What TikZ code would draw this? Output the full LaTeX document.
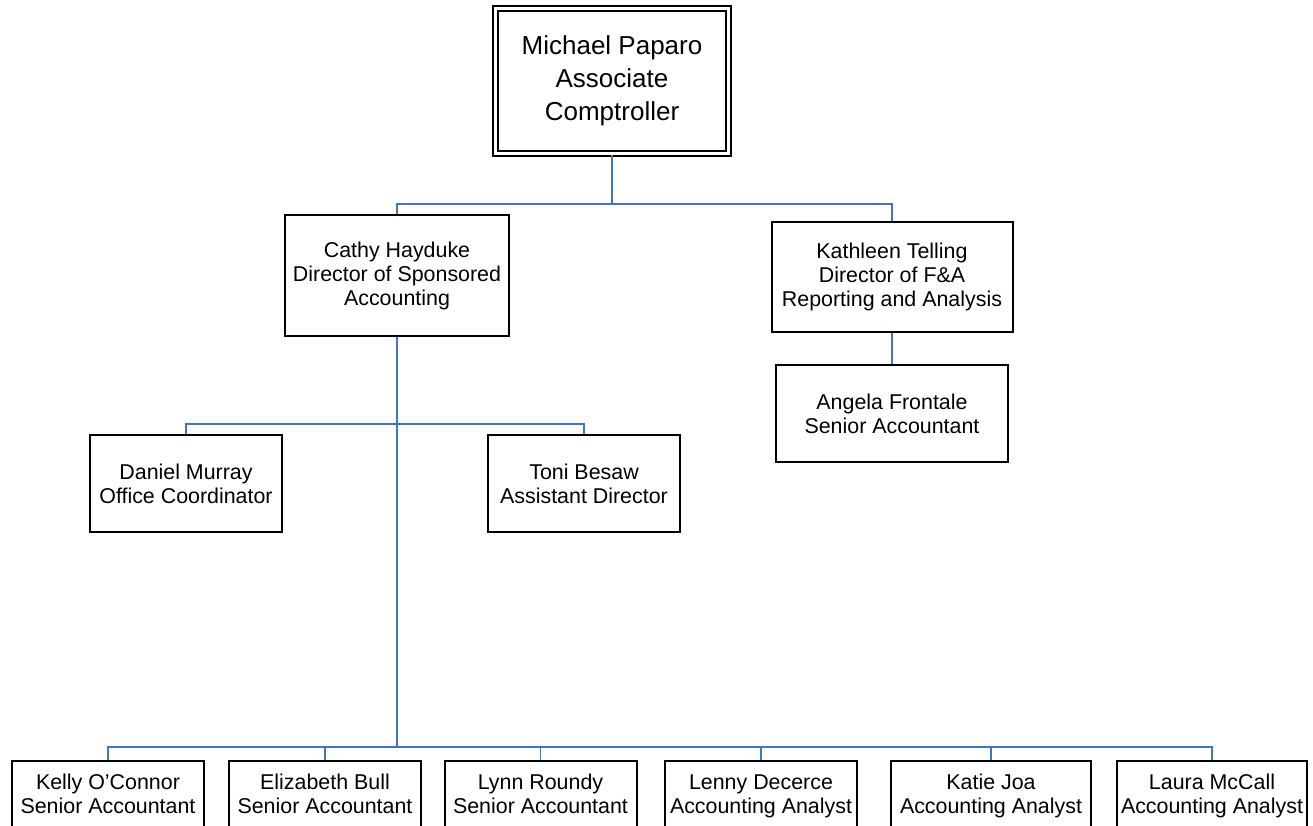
\documentclass[tikz,border=0pt]{standalone}
\usepackage{fontspec}
\setmainfont{Liberation Sans}
\definecolor{linkblue}{HTML}{4472C4}
\begin{document}
\begin{tikzpicture}[x=1pt,y=-1pt,
  box/.style={draw=black, line width=2pt, align=center, inner sep=0pt,
    font=\fontsize{21.4}{24}\selectfont, text=black},
  midbox/.style={box, minimum width=192pt, minimum height=97pt},
  lowbox/.style={box, minimum width=192pt, anchor=north, text height=52pt, text depth=60pt},
  conn/.style={draw=linkblue, line width=1.8pt}]
\useasboundingbox (0,0) rectangle (1313,825);
\clip (0,0) rectangle (1313,825);

\node[box, double, double distance=2.5pt, line width=2pt, minimum width=233pt,
  minimum height=145pt, font=\fontsize{26}{33}\selectfont] (top) at (612,81)
  {Michael Paparo\\Associate\\Comptroller};

\node[box, minimum width=224pt, minimum height=121pt] (cathy) at (397,275.5)
  {Cathy Hayduke\\Director of Sponsored\\Accounting};
\node[box, minimum width=241pt, minimum height=110pt] (kath) at (892,277)
  {Kathleen Telling\\Director of F\&A\\Reporting and Analysis};
\node[box, minimum width=232pt, minimum height=97pt] (angela) at (892,413.5)
  {Angela Frontale\\Senior Accountant};
\node[midbox] (daniel) at (186,483.5) {Daniel Murray\\Office Coordinator};
\node[midbox] (toni) at (584,483.5) {Toni Besaw\\Assistant Director};

\node[lowbox] (kelly) at (108,760) {Kelly O’Connor\\Senior Accountant};
\node[lowbox] (eliz) at (325,760) {Elizabeth Bull\\Senior Accountant};
\node[lowbox] (lynn) at (540.5,760) {Lynn Roundy\\Senior Accountant};
\node[lowbox] (lenny) at (761,760) {Lenny Decerce\\Accounting Analyst};
\node[lowbox, minimum width=200pt] (katie) at (991,760) {Katie Joa\\Accounting Analyst};
\node[lowbox, minimum width=190pt] (laura) at (1212,760) {Laura McCall\\Accounting Analyst};

\coordinate (b1) at (612,204);
\coordinate (b2) at (397,424);
\coordinate (b3) at (397,747);

\draw[conn] (top.south) -- (b1);
\draw[conn] (cathy.north) |- (b1) -| (kath.north);
\draw[conn] (kath.south) -- (angela.north);
\draw[conn] (cathy.south) -- (b3);
\draw[conn] (daniel.north) |- (b2) -| (toni.north);
\draw[conn] (kelly.north) |- (b3) -| (laura.north);
\draw[conn] (eliz.north) -- (eliz.north |- b3);
\draw[conn] (lynn.north) -- (lynn.north |- b3);
\draw[conn] (lenny.north) -- (lenny.north |- b3);
\draw[conn] (katie.north) -- (katie.north |- b3);
\end{tikzpicture}
\end{document}
